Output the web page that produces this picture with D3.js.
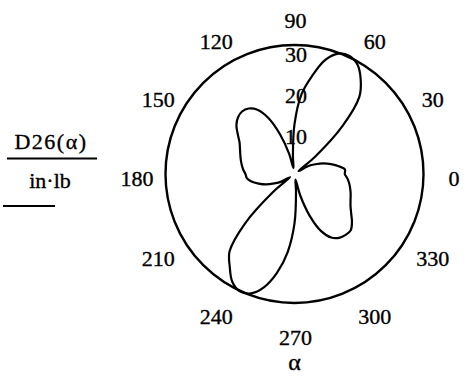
<!DOCTYPE html>
<html>
<head>
<meta charset="utf-8">
<script src="https://cdn.jsdelivr.net/npm/d3@7"></script>
<style>
  html, body { margin: 0; padding: 0; background: #fff; }
  svg { display: block; }
  text { font-family: "Liberation Serif", "Times New Roman", serif; fill: #000; stroke: #000; stroke-width: 0.35px; }
</style>
</head>
<body>
<svg id="chart" width="474" height="379"></svg>
<script>
// Ply angle α in degrees (0..355, every 5°)
const alphaDeg = d3.range(0, 360, 5);

// D26(α) in in·lb, magnitude plotted as radius
const d26 = [
  12.2, 12.3, 10.9, 9.2, 7.5, 5.6, 3.9, 1.2,      // 0 - 35
  6.6, 16.5, 24.5, 28.0, 30.6, 31.6, 31.1, 28.6,  // 40 - 75
  24.0, 19.4, 12.1, 4.4, 1.5, 5.1, 10.2, 15.0,    // 80 - 115
  18.0, 19.4, 19.8, 19.4, 18.4, 16.8, 15.4, 14.6, // 120 - 155
  14.0, 13.5, 13.0, 12.5,                         // 160 - 175
  11.9, 11.6, 10.6, 9.0, 7.4, 5.4, 3.7, 1.3,      // 180 - 215
  6.8, 17.0, 24.5, 27.4, 30.2, 31.4, 30.8, 28.4,  // 220 - 255
  24.3, 19.0, 12.0, 4.2, 1.4, 5.4, 10.8, 15.3,    // 260 - 295
  17.8, 18.9, 19.3, 19.3, 18.2, 16.8, 15.7, 15.0, // 300 - 335
  14.5, 14.0, 13.5, 12.9                          // 340 - 355
];

const angleTicks = [0, 30, 60, 90, 120, 150, 180, 210, 240, 270, 300, 330];
const radialTicks = [10, 20, 30];
const radialMax = 31.3;

const titleTop = "D26(\u03b1)";
const titleBottom = "in\u00b7lb";
const angleAxisTitle = "\u03b1";

const svg = d3.select("#chart");
const cx = 294.5, cy = 174, R = 129;
const fs = 22;

const r = d3.scaleLinear().domain([0, radialMax]).range([0, R]);
const toRad = d => d * Math.PI / 180;

const g = svg.append("g").attr("transform", `translate(${cx},${cy})`);

// outer boundary of the polar plot
g.append("circle")
  .attr("r", r(radialMax))
  .attr("fill", "none")
  .attr("stroke", "#000")
  .attr("stroke-width", 2.4);

// D26(α) trace
const pts = alphaDeg.map((a, i) => ({ a, v: d26[i] }));
const line = d3.lineRadial()
  .angle(d => Math.PI / 2 - toRad(d.a))
  .radius(d => r(d.v))
  .curve(d3.curveCatmullRomClosed.alpha(0.5));

g.append("path")
  .datum(pts)
  .attr("d", line)
  .attr("fill", "none")
  .attr("stroke", "#000")
  .attr("stroke-width", 2.2)
  .attr("stroke-linejoin", "round");

// radial tick labels along the vertical axis
g.selectAll("text.rtick")
  .data(radialTicks)
  .join("text")
  .attr("class", "rtick")
  .attr("x", 1.5)
  .attr("y", d => -r(d) + 4 + 0.33 * fs)
  .attr("text-anchor", "middle")
  .attr("font-size", fs)
  .text(d => d);

// angular tick labels around the circle
const labelRing = R + 29.5;
svg.append("g")
  .attr("transform", `translate(${cx + 1},${cy + 5})`)
  .selectAll("text")
  .data(angleTicks)
  .join("text")
  .attr("x", d => labelRing * Math.cos(toRad(d)))
  .attr("y", d => -labelRing * Math.sin(toRad(d)) + 0.33 * fs)
  .attr("text-anchor", "middle")
  .attr("font-size", fs)
  .text(d => d);

// angular axis title
svg.append("text")
  .attr("x", cx)
  .attr("y", 370)
  .attr("text-anchor", "middle")
  .attr("font-size", 24)
  .text(angleAxisTitle);

// radial axis title written as a fraction
svg.append("text")
  .attr("x", 51)
  .attr("y", 149)
  .attr("text-anchor", "middle")
  .attr("font-size", fs)
  .attr("letter-spacing", 1.5)
  .text(titleTop);

svg.append("line")
  .attr("x1", 7).attr("x2", 97)
  .attr("y1", 158.5).attr("y2", 158.5)
  .attr("stroke", "#000").attr("stroke-width", 2);

svg.append("text")
  .attr("x", 50)
  .attr("y", 188)
  .attr("text-anchor", "middle")
  .attr("font-size", fs)
  .text(titleBottom);

svg.append("line")
  .attr("x1", 3).attr("x2", 55)
  .attr("y1", 206).attr("y2", 206)
  .attr("stroke", "#000").attr("stroke-width", 2);
</script>
</body>
</html>
